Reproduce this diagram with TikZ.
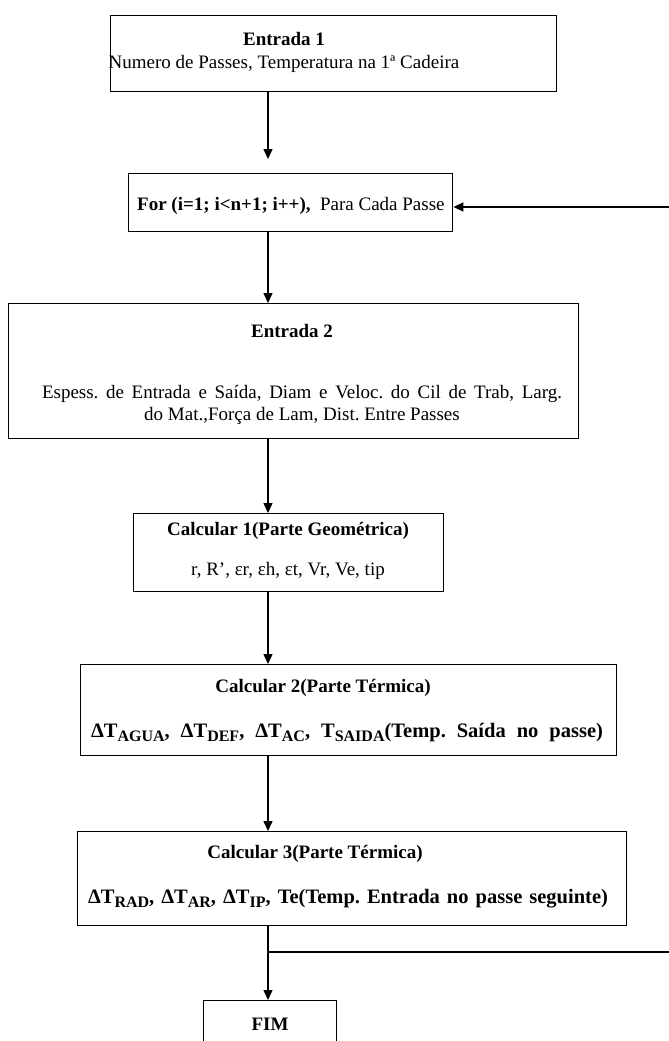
\documentclass[tikz,border=0pt]{standalone}
\usepackage{fontspec}
\setmainfont{Liberation Serif}
\usetikzlibrary{arrows.meta}
\newcommand{\lowsub}[1]{\raisebox{-0.2em}{\fontsize{16}{16}\selectfont #1}}
\frenchspacing
\tikzset{
  box/.style={draw, line width=1.4pt, inner sep=0pt, anchor=north west},
  lbl/.style={anchor=base, inner sep=0pt, font=\fontsize{19}{24}\selectfont},
  big/.style={lbl, font=\fontsize{20.5}{24}\selectfont\bfseries},
  conn/.style={line width=1.4pt},
  arr/.style={conn, -{Triangle[length=10pt,width=9pt]}}
}
\begin{document}
\begin{tikzpicture}[x=1pt,y=-1pt]
\useasboundingbox (0,0) rectangle (669,1041);
\clip (0,0) rectangle (669,1041);
% boxes
\node[box, minimum width=446, minimum height=76] (b1) at (110,15) {};
\node[box, minimum width=324, minimum height=58] (b2) at (128,173) {};
\node[box, minimum width=570, minimum height=135] (b3) at (8,303) {};
\node[box, minimum width=310, minimum height=78] (b4) at (133,513) {};
\node[box, minimum width=536, minimum height=91] (b5) at (80,664) {};
\node[box, minimum width=549, minimum height=94] (b6) at (77,831) {};
\node[box, minimum width=133, minimum height=80] (b7) at (203,1000) {};
% texts
\node[lbl] (t1a) at (284,46) {\textbf{Entrada 1}};
\node[lbl] (t1b) at (284,68) {Numero de Passes, Temperatura na 1ª Cadeira};
\node[lbl, anchor=base west] (t2) at (137,210) {\textbf{For (i=1; i<n+1; i++),}\ \ Para Cada Passe};
\node[lbl] (t3a) at (292,337) {\textbf{Entrada 2}};
\node[lbl] (t3b) at (302,398) {\makebox[520pt][s]{Espess. de Entrada e Saída, Diam e Veloc. do Cil de Trab, Larg.}};
\node[lbl] (t3c) at (302,420) {do Mat.,Força de Lam, Dist. Entre Passes};
\node[lbl] (t4a) at (288,535) {\textbf{Calcular 1(Parte Geométrica)}};
\node[lbl] (t4b) at (288,575) {r, R’, εr, εh, εt, Vr, Ve, tip};
\node[lbl] (t5a) at (323,692) {\textbf{Calcular 2(Parte Térmica)}};
\node[big] (t5b) at (347,737) {\makebox[512pt][s]{ΔT\lowsub{AGUA}, ΔT\lowsub{DEF}, ΔT\lowsub{AC}, T\lowsub{SAIDA}(Temp. Saída no passe)}};
\node[lbl] (t6a) at (315,858) {\textbf{Calcular 3(Parte Térmica)}};
\node[big] (t6b) at (348,903) {\makebox[520pt][s]{ΔT\lowsub{RAD}, ΔT\lowsub{AR}, ΔT\lowsub{IP}, Te(Temp. Entrada no passe seguinte)}};
\node[lbl] (t7) at (270,1030) {\textbf{FIM}};
% connectors
\coordinate (j) at (268,952);
\draw[arr, shorten >=14pt] (268,91) coordinate (b1s) -- (b1s |- b2.north);
\draw[arr] (b2.south -| b1s) -- (b3.north -| b1s);
\draw[arr] (b3.south -| b1s) -- (b4.north -| b1s);
\draw[arr] (b4.south -| b1s) -- (b5.north -| b1s);
\draw[arr] (b5.south -| b1s) -- (b6.north -| b1s);
\draw[arr] (b6.south -| b1s) -- (b7.north -| b1s);
\draw[arr] (j) -- (700,952) |- (b2.east |- 0,207);
\end{tikzpicture}
\end{document}
